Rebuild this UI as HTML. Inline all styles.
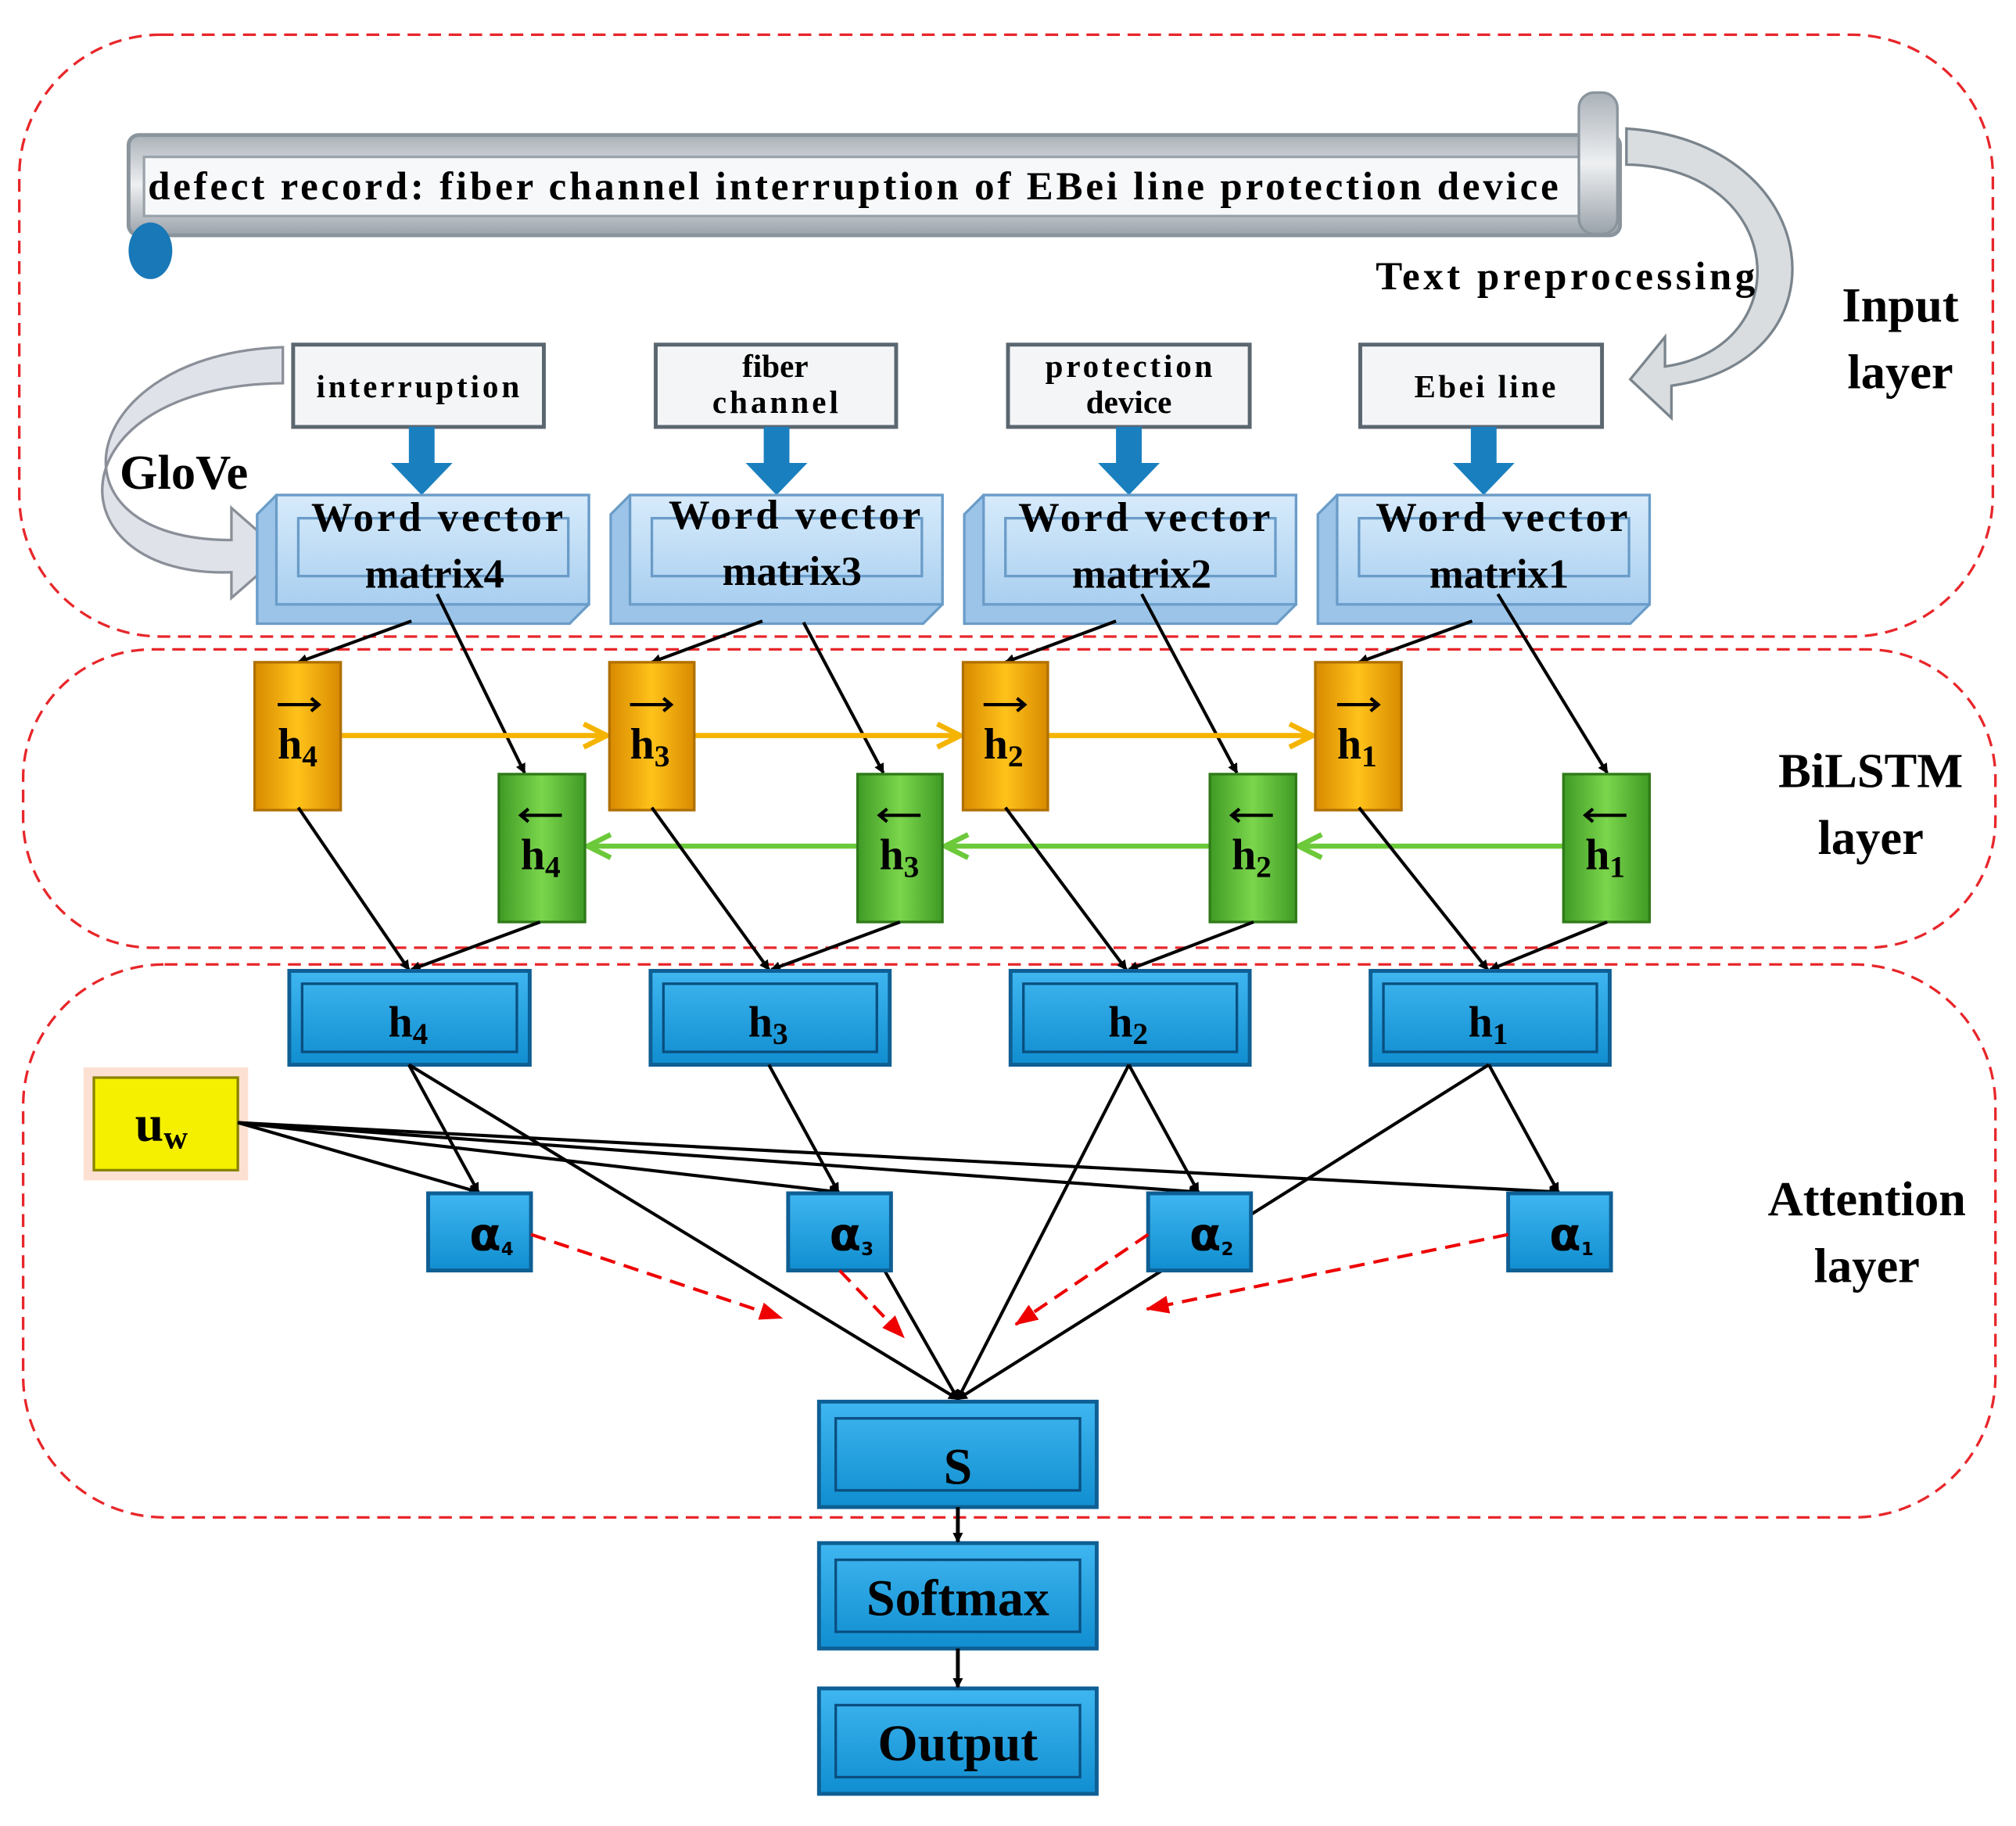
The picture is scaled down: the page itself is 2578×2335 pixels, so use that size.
<!DOCTYPE html>
<html><head><meta charset="utf-8"><style>
html,body{margin:0;padding:0;background:#fff;}
svg{display:block;}
text{font-family:"Liberation Serif",serif;font-weight:bold;}
</style></head><body>
<svg width="2578" height="2335" viewBox="0 0 1568 1420" preserveAspectRatio="none" xmlns="http://www.w3.org/2000/svg">
<defs>
<marker id="ab" markerWidth="8" markerHeight="8" refX="7" refY="4" orient="auto" markerUnits="userSpaceOnUse"><path d="M0,0 L8,4 L0,8 Z" fill="#000"/></marker>
<marker id="ao" markerWidth="22" markerHeight="22" refX="20" refY="11" orient="auto" markerUnits="userSpaceOnUse"><path d="M2,2 L20,11 L2,20" fill="none" stroke="#f5b400" stroke-width="4"/></marker>
<marker id="ag" markerWidth="22" markerHeight="22" refX="20" refY="11" orient="auto" markerUnits="userSpaceOnUse"><path d="M2,2 L20,11 L2,20" fill="none" stroke="#6cc93a" stroke-width="4"/></marker>
<marker id="ar" markerWidth="18" markerHeight="14" refX="17" refY="7" orient="auto" markerUnits="userSpaceOnUse"><path d="M0,0 L18,7 L0,14 Z" fill="#e00"/></marker>
<linearGradient id="gor" x1="0" x2="1"><stop offset="0" stop-color="#d88a00"/><stop offset=".5" stop-color="#ffc21a"/><stop offset="1" stop-color="#d88a00"/></linearGradient>
<linearGradient id="ggr" x1="0" x2="1"><stop offset="0" stop-color="#3f9a25"/><stop offset=".5" stop-color="#7bd64c"/><stop offset="1" stop-color="#3f9a25"/></linearGradient>
<linearGradient id="gbl" x1="0" y1="0" x2="0" y2="1"><stop offset="0" stop-color="#3fb6f0"/><stop offset="1" stop-color="#108ed0"/></linearGradient>
<linearGradient id="gsc" x1="0" y1="0" x2="0" y2="1"><stop offset="0" stop-color="#aab1b8"/><stop offset=".5" stop-color="#eef0f2"/><stop offset="1" stop-color="#9aa2aa"/></linearGradient>
<linearGradient id="gwm" x1="0" y1="0" x2="0" y2="1"><stop offset="0" stop-color="#d7ebfb"/><stop offset="1" stop-color="#a9cff0"/></linearGradient>
</defs>

<rect x="15" y="27" width="1535" height="468" rx="110" fill="none" stroke="#e8262a" stroke-width="2" stroke-dasharray="10,6"/>
<rect x="18" y="505" width="1534" height="232" rx="100" fill="none" stroke="#e8262a" stroke-width="2" stroke-dasharray="10,6"/>
<rect x="18" y="750" width="1534" height="430" rx="110" fill="none" stroke="#e8262a" stroke-width="2" stroke-dasharray="10,6"/>

<rect x="100" y="105" width="1160" height="78" rx="8" fill="url(#gsc)" stroke="#8a949c" stroke-width="3"/>
<rect x="112" y="122" width="1120" height="46" fill="#f7f8f9" stroke="#9aa2aa" stroke-width="2"/>
<ellipse cx="117" cy="195" rx="17" ry="22" fill="#1878b8"/>
<rect x="1228" y="72" width="30" height="110" rx="12" fill="url(#gsc)" stroke="#8a949c" stroke-width="2"/>
<text x="115" y="155" font-size="31" textLength="1097" lengthAdjust="spacing">defect record: fiber channel interruption of EBei line protection device</text>
<path d="M1265,100 C1420,110 1440,280 1300,300 L1300,325 L1268,295 L1295,262 L1295,285 C1400,270 1390,130 1265,128 Z" fill="#d9dde0" stroke="#7a848c" stroke-width="2"/>
<text x="1070" y="225" font-size="31" textLength="295" lengthAdjust="spacing">Text preprocessing</text>
<text x="1478" y="250" font-size="38" text-anchor="middle">Input</text>
<text x="1478" y="302" font-size="38" text-anchor="middle">layer</text>
<text x="1455" y="612" font-size="38" text-anchor="middle">BiLSTM</text>
<text x="1455" y="664" font-size="38" text-anchor="middle">layer</text>
<text x="1452" y="945" font-size="38" text-anchor="middle">Attention</text>
<text x="1452" y="997" font-size="38" text-anchor="middle">layer</text>

<path d="M220,270 C60,275 30,420 180,420 L180,395 L220,430 L180,465 L180,445 C40,450 40,300 220,298 Z" fill="#e0e2ea" stroke="#8a8f98" stroke-width="2"/>
<text x="143" y="380" font-size="38" text-anchor="middle">GloVe</text>

<g stroke="#5a6670" stroke-width="3" fill="#f4f5f6">
<rect x="228" y="268" width="195" height="64"/>
<rect x="510" y="268" width="187" height="64"/>
<rect x="784" y="268" width="188" height="64"/>
<rect x="1058" y="268" width="188" height="64"/>
</g>
<g font-size="25" text-anchor="middle">
<text x="325" y="309" textLength="158" lengthAdjust="spacing">interruption</text>
<text x="603" y="293">fiber</text><text x="603" y="321" textLength="98" lengthAdjust="spacing">channel</text>
<text x="878" y="293" textLength="130" lengthAdjust="spacing">protection</text><text x="878" y="321">device</text>
<text x="1155" y="309" textLength="110" lengthAdjust="spacing">Ebei line</text>
</g>
<g fill="#1a7fbf">
<path d="M318,332 h20 v28 h14 l-24,25 l-24,-25 h14 z"/>
<path d="M594,332 h20 v28 h14 l-24,25 l-24,-25 h14 z"/>
<path d="M868,332 h20 v28 h14 l-24,25 l-24,-25 h14 z"/>
<path d="M1144,332 h20 v28 h14 l-24,25 l-24,-25 h14 z"/>
</g>
<g stroke="#6a9cc8" stroke-width="2">
<g transform="translate(200,385)"><path d="M0,15 L15,0 L258,0 L258,85 L243,100 L0,100 Z" fill="#9cc4e8"/><rect x="15" y="0" width="243" height="85" fill="url(#gwm)"/><rect x="32" y="18" width="210" height="45" fill="none"/></g>
<g transform="translate(475,385)"><path d="M0,15 L15,0 L258,0 L258,85 L243,100 L0,100 Z" fill="#9cc4e8"/><rect x="15" y="0" width="243" height="85" fill="url(#gwm)"/><rect x="32" y="18" width="210" height="45" fill="none"/></g>
<g transform="translate(750,385)"><path d="M0,15 L15,0 L258,0 L258,85 L243,100 L0,100 Z" fill="#9cc4e8"/><rect x="15" y="0" width="243" height="85" fill="url(#gwm)"/><rect x="32" y="18" width="210" height="45" fill="none"/></g>
<g transform="translate(1025,385)"><path d="M0,15 L15,0 L258,0 L258,85 L243,100 L0,100 Z" fill="#9cc4e8"/><rect x="15" y="0" width="243" height="85" fill="url(#gwm)"/><rect x="32" y="18" width="210" height="45" fill="none"/></g>
</g>
<g font-size="32" text-anchor="middle">
<text x="340" y="413" textLength="196" lengthAdjust="spacing">Word vector</text><text x="338" y="457">matrix4</text>
<text x="618" y="411" textLength="196" lengthAdjust="spacing">Word vector</text><text x="616" y="455">matrix3</text>
<text x="890" y="413" textLength="196" lengthAdjust="spacing">Word vector</text><text x="888" y="457">matrix2</text>
<text x="1168" y="413" textLength="196" lengthAdjust="spacing">Word vector</text><text x="1166" y="457">matrix1</text>
</g>

<g stroke="#000" stroke-width="2.5" marker-end="url(#ab)">
<line x1="320" y1="483" x2="232" y2="515"/><line x1="340" y1="462" x2="408" y2="601"/>
<line x1="593" y1="483" x2="507" y2="515"/><line x1="625" y1="484" x2="687" y2="601"/>
<line x1="868" y1="483" x2="782" y2="515"/><line x1="888" y1="462" x2="962" y2="601"/>
<line x1="1145" y1="483" x2="1057" y2="515"/><line x1="1165" y1="462" x2="1250" y2="601"/>
</g>

<g stroke="#f5b400" stroke-width="4" marker-end="url(#ao)">
<line x1="265" y1="572" x2="472" y2="572"/><line x1="540" y1="572" x2="747" y2="572"/><line x1="815" y1="572" x2="1021" y2="572"/>
</g>
<g stroke="#6cc93a" stroke-width="4" marker-end="url(#ag)">
<line x1="1216" y1="658" x2="1010" y2="658"/><line x1="941" y1="658" x2="735" y2="658"/><line x1="667" y1="658" x2="457" y2="658"/>
</g>

<g stroke="#b07000" stroke-width="2">
<rect x="198" y="515" width="67" height="115" fill="url(#gor)"/>
<rect x="474" y="515" width="66" height="115" fill="url(#gor)"/>
<rect x="749" y="515" width="66" height="115" fill="url(#gor)"/>
<rect x="1023" y="515" width="67" height="115" fill="url(#gor)"/>
</g>
<g stroke="#2f7a18" stroke-width="2">
<rect x="388" y="602" width="67" height="115" fill="url(#ggr)"/>
<rect x="667" y="602" width="66" height="115" fill="url(#ggr)"/>
<rect x="941" y="602" width="67" height="115" fill="url(#ggr)"/>
<rect x="1216" y="602" width="67" height="115" fill="url(#ggr)"/>
</g>
<g font-size="34">
<text x="216" y="590">h<tspan font-size="24" dy="6">4</tspan></text>
<text x="490" y="590">h<tspan font-size="24" dy="6">3</tspan></text>
<text x="765" y="590">h<tspan font-size="24" dy="6">2</tspan></text>
<text x="1040" y="590">h<tspan font-size="24" dy="6">1</tspan></text>
<text x="405" y="676">h<tspan font-size="24" dy="6">4</tspan></text>
<text x="684" y="676">h<tspan font-size="24" dy="6">3</tspan></text>
<text x="958" y="676">h<tspan font-size="24" dy="6">2</tspan></text>
<text x="1233" y="676">h<tspan font-size="24" dy="6">1</tspan></text>
</g>
<g stroke="#000" stroke-width="2.5">
<path d="M216,548 h32 M242,543 l6,5 l-6,5" fill="none"/>
<path d="M490,548 h32 M516,543 l6,5 l-6,5" fill="none"/>
<path d="M765,548 h32 M791,543 l6,5 l-6,5" fill="none"/>
<path d="M1040,548 h32 M1066,543 l6,5 l-6,5" fill="none"/>
<path d="M405,634 h32 M411,629 l-6,5 l6,5" fill="none"/>
<path d="M684,634 h32 M690,629 l-6,5 l6,5" fill="none"/>
<path d="M958,634 h32 M964,629 l-6,5 l6,5" fill="none"/>
<path d="M1233,634 h32 M1239,629 l-6,5 l6,5" fill="none"/>
</g>

<g stroke="#000" stroke-width="2.5" marker-end="url(#ab)">
<line x1="232" y1="628" x2="318" y2="754"/><line x1="420" y1="717" x2="320" y2="754"/>
<line x1="507" y1="628" x2="598" y2="754"/><line x1="700" y1="717" x2="600" y2="754"/>
<line x1="782" y1="628" x2="876" y2="754"/><line x1="975" y1="717" x2="878" y2="754"/>
<line x1="1057" y1="628" x2="1157" y2="754"/><line x1="1250" y1="717" x2="1159" y2="754"/>
</g>

<g stroke="#0e5f94" stroke-width="3" fill="url(#gbl)">
<rect x="225" y="755" width="187" height="73"/><rect x="506" y="755" width="186" height="73"/>
<rect x="786" y="755" width="186" height="73"/><rect x="1066" y="755" width="186" height="73"/>
</g>
<g fill="none" stroke="#0a4f80" stroke-width="2">
<rect x="235" y="765" width="167" height="53"/><rect x="516" y="765" width="166" height="53"/>
<rect x="796" y="765" width="166" height="53"/><rect x="1076" y="765" width="166" height="53"/>
</g>
<g font-size="34">
<text x="302" y="806">h<tspan font-size="24" dy="6">4</tspan></text>
<text x="582" y="806">h<tspan font-size="24" dy="6">3</tspan></text>
<text x="862" y="806">h<tspan font-size="24" dy="6">2</tspan></text>
<text x="1142" y="806">h<tspan font-size="24" dy="6">1</tspan></text>
</g>

<rect x="65" y="830" width="128" height="88" fill="#fbd9c8" opacity=".8"/>
<rect x="73" y="838" width="112" height="72" fill="#f4f000" stroke="#8a8400" stroke-width="2"/>
<text x="105" y="887" font-size="40">u<tspan font-size="26" dy="6">w</tspan></text>

<g stroke="#000" stroke-width="2.5" fill="none">
<line x1="185" y1="873" x2="372" y2="927" marker-end="url(#ab)"/>
<line x1="185" y1="873" x2="652" y2="927" marker-end="url(#ab)"/>
<line x1="185" y1="873" x2="932" y2="927" marker-end="url(#ab)"/>
<line x1="185" y1="873" x2="1212" y2="927" marker-end="url(#ab)"/>
<line x1="318" y1="828" x2="372" y2="927" marker-end="url(#ab)"/>
<line x1="598" y1="828" x2="652" y2="927" marker-end="url(#ab)"/>
<line x1="878" y1="828" x2="932" y2="927" marker-end="url(#ab)"/>
<line x1="1158" y1="828" x2="1212" y2="927" marker-end="url(#ab)"/>
<line x1="318" y1="828" x2="745" y2="1088" marker-end="url(#ab)"/>
<line x1="878" y1="828" x2="745" y2="1088" marker-end="url(#ab)"/>
<line x1="1158" y1="828" x2="745" y2="1088" marker-end="url(#ab)"/>
<line x1="688" y1="988" x2="745" y2="1088" marker-end="url(#ab)"/>
</g>
<g stroke="#0e5f94" stroke-width="3" fill="url(#gbl)">
<rect x="333" y="928" width="80" height="60"/><rect x="613" y="928" width="80" height="60"/>
<rect x="893" y="928" width="80" height="60"/><rect x="1173" y="928" width="80" height="60"/>
</g>
<g font-size="36">
<text x="365" y="972" style="font-family:'DejaVu Sans',sans-serif">α<tspan font-size="14" dy="4">4</tspan></text>
<text x="645" y="972" style="font-family:'DejaVu Sans',sans-serif">α<tspan font-size="14" dy="4">3</tspan></text>
<text x="925" y="972" style="font-family:'DejaVu Sans',sans-serif">α<tspan font-size="14" dy="4">2</tspan></text>
<text x="1205" y="972" style="font-family:'DejaVu Sans',sans-serif">α<tspan font-size="14" dy="4">1</tspan></text>
</g>
<g stroke="#e00" stroke-width="2.5" stroke-dasharray="12,7" fill="none" marker-end="url(#ar)">
<line x1="413" y1="960" x2="608" y2="1025"/>
<line x1="653" y1="988" x2="703" y2="1040"/>
<line x1="893" y1="960" x2="790" y2="1030"/>
<line x1="1173" y1="960" x2="892" y2="1018"/>
</g>

<g stroke="#0e5f94" stroke-width="3" fill="url(#gbl)">
<rect x="637" y="1090" width="216" height="82"/>
<rect x="637" y="1200" width="216" height="82"/>
<rect x="637" y="1313" width="216" height="82"/>
</g>
<g fill="none" stroke="#0a4f80" stroke-width="2">
<rect x="650" y="1103" width="190" height="56"/><rect x="650" y="1213" width="190" height="56"/><rect x="650" y="1326" width="190" height="56"/>
</g>
<g font-size="40" text-anchor="middle">
<text x="745" y="1154">S</text>
<text x="745" y="1256">Softmax</text>
<text x="745" y="1369">Output</text>
</g>
<g stroke="#000" stroke-width="3" marker-end="url(#ab)">
<line x1="745" y1="1172" x2="745" y2="1199"/>
<line x1="745" y1="1282" x2="745" y2="1312"/>
</g>
</svg>
</body></html>
